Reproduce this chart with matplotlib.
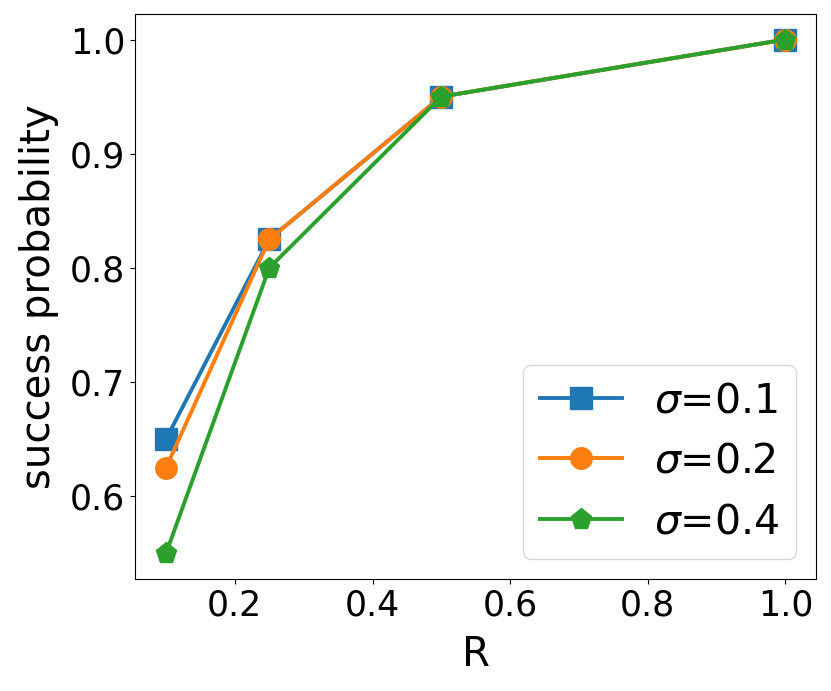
import matplotlib
matplotlib.use("Agg")
import matplotlib.pyplot as plt

R = [0.1, 0.25, 0.5, 1.0]
p_s01 = [0.65, 0.825, 0.95, 1.0]
p_s02 = [0.625, 0.825, 0.95, 1.0]
p_s04 = [0.55, 0.8, 0.95, 1.0]
labels = [r"$\sigma$=0.1", r"$\sigma$=0.2", r"$\sigma$=0.4"]

fig = plt.figure(figsize=(8.31, 6.91), dpi=100)
ax = fig.add_axes([0.1625, 0.162, 0.820, 0.818])
ax.plot(R, p_s01, marker="s", markersize=15.5, linewidth=2.8, label=labels[0])
ax.plot(R, p_s02, marker="o", markersize=15.5, linewidth=2.8, label=labels[1])
ax.plot(R, p_s04, marker="p", markersize=15.5, linewidth=2.8, label=labels[2])
ax.set_xlabel("R", fontsize=29, labelpad=9)
ax.set_ylabel("success probability", fontsize=29, labelpad=8)
ax.tick_params(labelsize=25)
ax.set_xticks([0.2, 0.4, 0.6, 0.8, 1.0])
ax.set_yticks([0.6, 0.7, 0.8, 0.9, 1.0])
ax.legend(fontsize=29.5, loc="lower right")
fig.savefig("out.png", dpi=100)
